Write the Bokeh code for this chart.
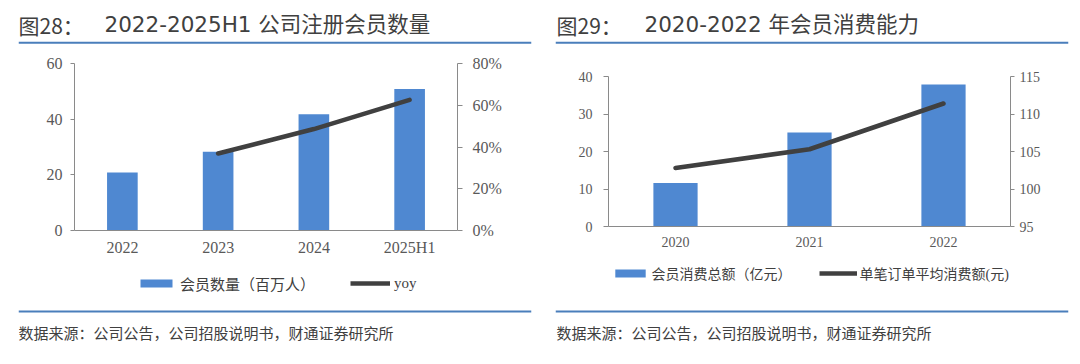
from bokeh.plotting import figure
from bokeh.models import (Range1d, FactorRange, LinearAxis, FixedTicker, NumeralTickFormatter,
                          Legend, LegendItem, Span, Label, ColumnDataSource, Plot)
from bokeh.layouts import row, column
from bokeh.embed import file_html
from bokeh.resources import INLINE

# ---------------- data ----------------
members_years = ["2022", "2023", "2024", "2025H1"]
members_count = [20.8, 28.3, 41.8, 50.8]          # 会员数量（百万人）
members_yoy = [float("nan"), 0.369, 0.486, 0.626]  # yoy

spend_years = ["2020", "2021", "2022"]
spend_total = [11.6, 25.1, 37.9]                  # 会员消费总额（亿元）
spend_avg_order = [102.8, 105.3, 111.4]           # 单笔订单平均消费额(元)

title1_a, title1_b = "图28：", "2022-2025H1 公司注册会员数量"
title2_a, title2_b = "图29：", "2020-2022 年会员消费能力"
source_text = "数据来源：公司公告，公司招股说明书，财通证券研究所"
legend1 = ["会员数量（百万人）", "yoy"]
legend2 = ["会员消费总额（亿元）", "单笔订单平均消费额(元)"]

# ---------------- styles ----------------
BLUE_LINE = "#4a7ebb"
BAR = "#4f88d1"
LINE = "#404040"
TEXT = "#404040"
TICK = "#595959"
AXIS = "#8a8a8a"
TITLE_FONT = "'DejaVu Sans', 'Noto Sans CJK SC'"
CJK = "'Noto Sans CJK SC'"
SERIF = "'Liberation Serif'"
LEG_FONT = "'Liberation Serif', 'Noto Sans CJK SC'"
PW = 540
CH = 212   # chart figure height
FH = 92    # footer (legend + source) height
FA = {"frame_align": False} if "frame_align" in Plot.properties() else {}
NAN = float("nan")


def base_fig(height, left, fw, top, bottom, **kw):
    f = figure(width=PW, height=height, output_backend="svg", toolbar_location=None,
               min_border_left=left, min_border_right=PW - left - fw,
               min_border_top=top, min_border_bottom=bottom, **FA, **kw)
    f.grid.visible = False
    f.outline_line_color = None
    f.background_fill_color = "white"
    f.border_fill_color = "white"
    return f


def header(ta, tb, left, fw, xa, xb):
    h = base_fig(52, left, fw, 0, 0, x_range=Range1d(0, fw), y_range=Range1d(0, 52),
                 x_axis_type=None, y_axis_type=None)
    h.add_layout(Span(location=9.7, dimension="width", line_color=BLUE_LINE, line_width=2))
    h.add_layout(Label(x=xa, y=28, text=ta, text_font=CJK, text_font_size="21px",
                       text_color=TEXT, text_baseline="middle", text_align="left"))
    h.add_layout(Label(x=xb, y=28, text=tb, text_font=TITLE_FONT, text_font_size="21.5px",
                       text_color=TEXT, text_baseline="middle", text_align="left"))
    return h


def footer(left, fw, x, labels, leg_loc, gw, gh, lstand, lspace, lfs):
    f = base_fig(FH, left, fw, 0, 0, x_range=Range1d(0, fw), y_range=Range1d(0, FH),
                 x_axis_type=None, y_axis_type=None)
    f.add_layout(Span(location=45, dimension="width", line_color=BLUE_LINE, line_width=2))
    f.add_layout(Label(x=x, y=24, text=source_text, text_font=CJK, text_font_size="15px",
                       text_color=TEXT, text_baseline="middle", text_align="left"))
    # legend keys (same styles as the chart's bar and line series; no visible data)
    kb = f.vbar(x=[NAN], top=[NAN], width=1, fill_color=BAR, line_color=None)
    kl = f.line(x=[NAN, NAN], y=[NAN, NAN], line_color=LINE, line_width=4.5, line_cap="butt")
    leg = Legend(items=[LegendItem(label=labels[0], renderers=[kb]),
                        LegendItem(label=labels[1], renderers=[kl])],
                 location=leg_loc, orientation="horizontal",
                 glyph_width=gw, glyph_height=gh, label_height=20,
                 label_standoff=lstand, spacing=lspace, padding=0, margin=0,
                 border_line_color=None, background_fill_alpha=0,
                 label_text_font=LEG_FONT, label_text_font_size=lfs, label_text_color=TEXT)
    f.add_layout(leg)
    return f


def style_axis(ax, font_size, standoff, tick_out):
    ax.axis_line_color = AXIS
    ax.major_tick_line_color = AXIS
    ax.major_tick_out = tick_out
    ax.major_tick_in = 0
    ax.minor_tick_line_color = None
    ax.major_label_text_font = SERIF
    ax.major_label_text_font_size = font_size
    ax.major_label_text_color = TICK
    ax.major_label_standoff = standoff


def chart(cats, bars, line_vals, yr, yticks, yr2, yticks2, fmt2, bw,
          left, fw, top, fh, fs_y, fs_x, so_l, so_r, so_x, to_l, to_r):
    p = base_fig(CH, left, fw, top, CH - top - fh,
                 x_range=FactorRange(*cats), y_range=Range1d(*yr))
    p.extra_y_ranges = {"r": Range1d(*yr2)}

    src = ColumnDataSource(dict(x=cats, bar=bars, line=line_vals))
    p.vbar(x="x", top="bar", width=bw, source=src, fill_color=BAR, line_color=None)
    p.line(x="x", y="line", source=src, y_range_name="r", line_color=LINE,
           line_width=4.5, line_cap="round", line_join="round")

    xa = p.xaxis[0]
    style_axis(xa, fs_x, so_x, 0)
    xa.major_tick_line_color = None

    ya = p.yaxis[0]
    ya.ticker = FixedTicker(ticks=yticks)
    style_axis(ya, fs_y, so_l, to_l)

    ra = LinearAxis(y_range_name="r", ticker=FixedTicker(ticks=yticks2))
    if fmt2:
        ra.formatter = NumeralTickFormatter(format=fmt2)
    style_axis(ra, fs_y, so_r, to_r)
    p.add_layout(ra, "right")
    return p


c1 = chart(members_years, members_count, members_yoy, (0, 60), [0, 20, 40, 60],
           (0, 0.8), [0, 0.2, 0.4, 0.6, 0.8], "0%", 0.32,
           left=74, fw=383, top=11, fh=167, fs_y="16px", fs_x="16px",
           so_l=8, so_r=10, so_x=8, to_l=4, to_r=5)

c2 = chart(spend_years, spend_total, spend_avg_order, (0, 40), [0, 10, 20, 30, 40],
           (95, 115), [95, 100, 105, 110, 115], None, 0.33,
           left=68, fw=402, top=24, fh=150, fs_y="14px", fs_x="14px",
           so_l=11, so_r=5, so_x=10, to_l=5, to_r=4)

h1 = header(title1_a, title1_b, 18, 513, 0, 86)
h2 = header(title2_a, title2_b, 15, 513, 1, 89)
f1 = footer(18, 513, 0, legend1, (118, 62.5), 40, 10, 4, 35, "15px")
f2 = footer(15, 513, 1, legend2, (55.5, 72.7), 38, 10, 3, 27, "14px")

layout = row(column(h1, c1, f1), column(h2, c2, f2))
open("out.html", "w").write(file_html(layout, INLINE))
